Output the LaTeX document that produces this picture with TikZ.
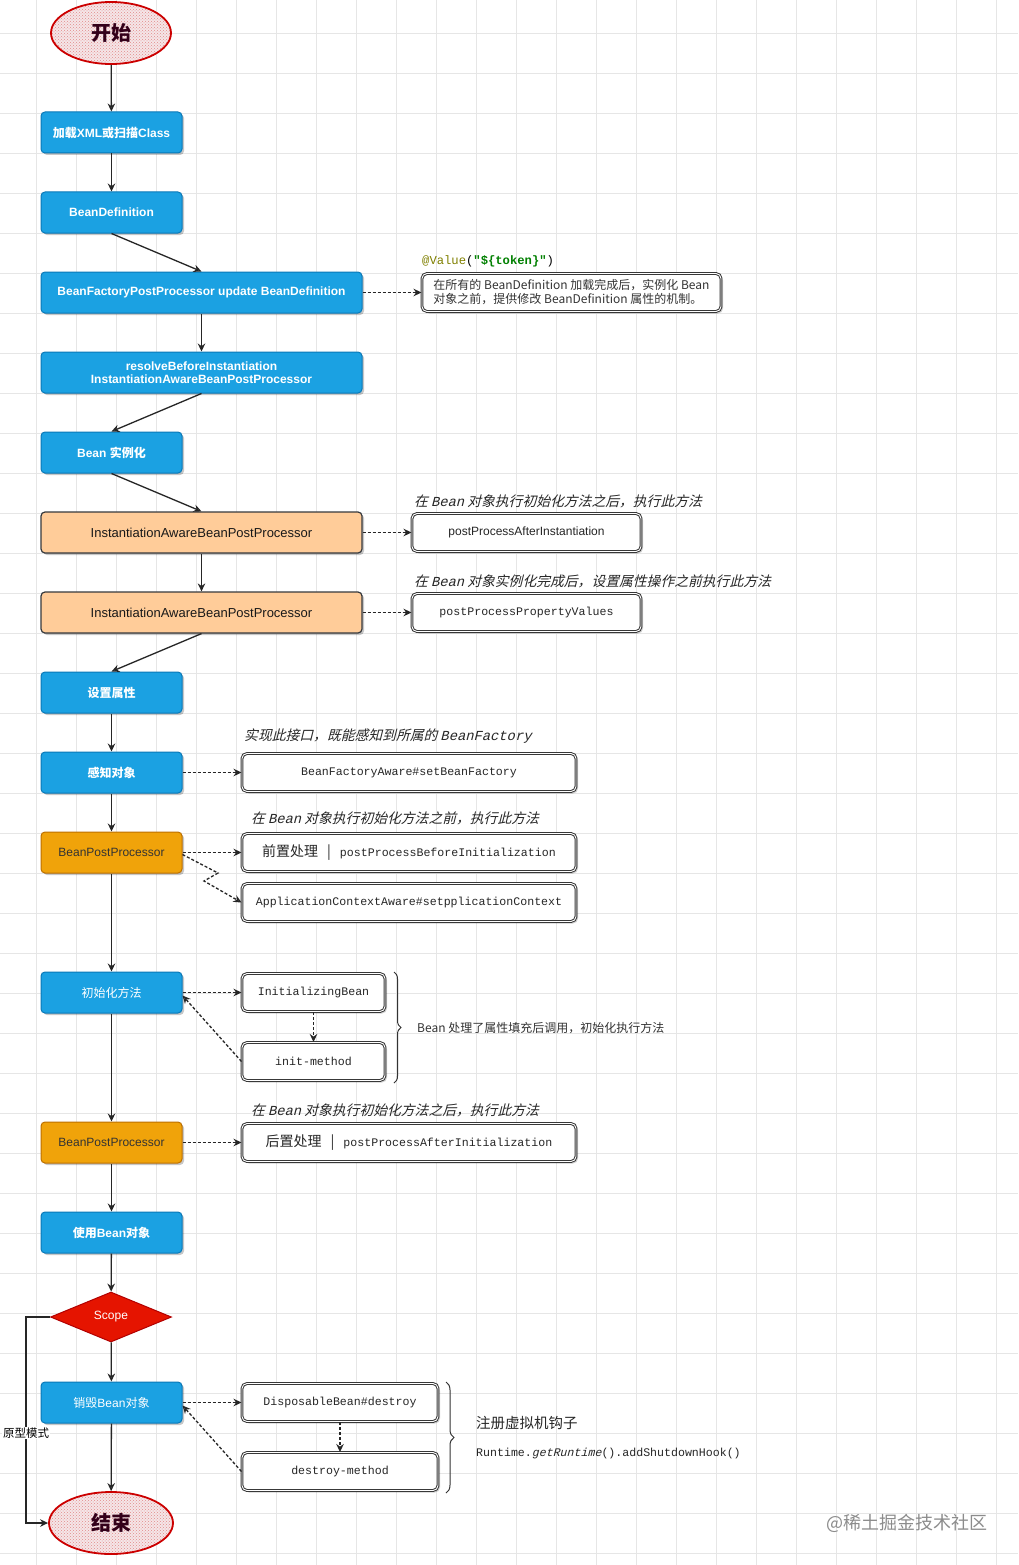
\documentclass[tikz,border=0pt]{standalone}
\usepackage{fontspec}
\setmainfont{Liberation Sans}
\setmonofont{Liberation Mono}
\newfontfamily\cjk{Noto Sans CJK SC}
\newfontfamily\cjki[FakeSlant=0.25]{Noto Sans CJK SC}
\newfontfamily\monoi[FakeSlant=0.25]{Liberation Mono}
\usetikzlibrary{arrows.meta,shapes.geometric,shadows,patterns,decorations.pathreplacing}
\newcommand\zhc[1]{{\cjk #1}}
\definecolor{bluef}{HTML}{1BA1E2}
\definecolor{blued}{HTML}{0A79B8}
\definecolor{peach}{HTML}{FFCC99}
\definecolor{peachd}{HTML}{36393D}
\definecolor{amber}{HTML}{F0A30A}
\definecolor{amberd}{HTML}{BD7000}
\definecolor{scoper}{HTML}{E51400}
\definecolor{scoped}{HTML}{B20000}
\definecolor{ellr}{HTML}{CC0000}
\definecolor{ellfill}{HTML}{F5E6E8}
\definecolor{elldot}{HTML}{E28A8A}
\definecolor{elltext}{HTML}{33001A}
\definecolor{gridc}{HTML}{E6E6E6}
\definecolor{valc}{HTML}{808000}
\definecolor{tokc}{HTML}{008000}
\definecolor{txtd}{HTML}{333333}
\tikzset{
  shad/.style={drop shadow={shadow xshift=2pt, shadow yshift=-2pt, opacity=0.22, fill=black}},
  bbox/.style={shad, rounded corners=4pt, draw=blued, line width=1pt, fill=bluef, text=white,
    minimum height=41pt, inner sep=0pt, align=center, font=\fontsize{12}{14}\selectfont},
  wbox/.style={bbox, minimum width=141pt},
  wide/.style={bbox, minimum width=321pt},
  bfont/.style={font=\bfseries\fontsize{12}{14}\selectfont},
  pbox/.style={shad, rounded corners=4pt, draw=peachd, line width=1.2pt, fill=peach, text=black!90,
    minimum height=41pt, minimum width=321pt, inner sep=0pt, font=\fontsize{13}{15}\selectfont},
  abox/.style={shad, rounded corners=4pt, draw=amberd, line width=1pt, fill=amber, text=txtd,
    minimum height=41pt, minimum width=141pt, inner sep=0pt, font=\fontsize{12}{14}\selectfont},
  rbox/.style={drop shadow={shadow xshift=2pt, shadow yshift=-2pt, opacity=0.18, fill=black},
    rounded corners=5pt, draw=black!78, line width=1pt, double=white, double distance=0.9pt,
    fill=white, minimum height=38pt, inner sep=0pt, text=black!85,
    font=\ttfamily\fontsize{11.6}{13.5}\selectfont},
  ell/.style={ellipse, draw=ellr, line width=1.8pt, preaction={fill=ellfill},
    pattern=crosshatch dots, pattern color=elldot, inner sep=0pt, text=elltext,
    font=\cjk\bfseries\fontsize{20}{22}\selectfont},
  lab/.style={anchor=west, inner sep=0pt, text=black!85, font=\cjki\fontsize{13.8}{15}\selectfont},
  conn/.style={draw=black!85, line width=1.3pt, -{Stealth[open, length=8pt, width=7.5pt]}},
  dconn/.style={conn, dashed, dash pattern=on 3pt off 2pt},
}
\begin{document}
\begin{tikzpicture}[x=1pt, y=-1pt]
\useasboundingbox (0,0) rectangle (1018,1565);
\fill[white] (0,0) rectangle (1018,1565);
% grid
\foreach \gx in {36,76,...,1016} \draw[gridc, line width=0.8pt] (\gx,0) -- (\gx,1565);
\foreach \gy in {33,73,...,1563} \draw[gridc, line width=0.8pt] (0,\gy) -- (1018,\gy);

% left column
\node[ell, minimum width=120pt, minimum height=62pt] (n0) at (111,33) {开始};
\node[wbox, bfont] (n1) at (111.5,132.5) {\zhc{加载}XML\zhc{或扫描}Class};
\node[wbox, bfont] (n2) at (111.5,212.5) {BeanDefinition};
\node[wide, bfont] (n3) at (201.5,292.5) {BeanFactoryPostProcessor update BeanDefinition};
\node[wide, bfont] (n4) at (201.5,372.5) {resolveBeforeInstantiation\\[-1pt]InstantiationAwareBeanPostProcessor};
\node[wbox, bfont] (n5) at (111.5,452.5) {Bean \zhc{实例化}};
\node[pbox] (n6) at (201.5,532.5) {InstantiationAwareBeanPostProcessor};
\node[pbox] (n7) at (201.5,612.5) {InstantiationAwareBeanPostProcessor};
\node[wbox, font=\cjk\bfseries\fontsize{12}{14}\selectfont] (n8) at (111.5,692.5) {设置属性};
\node[wbox, font=\cjk\bfseries\fontsize{12}{14}\selectfont] (n9) at (111.5,772.5) {感知对象};
\node[abox] (n10) at (111.5,852.5) {BeanPostProcessor};
\node[wbox, font=\cjk\fontsize{12}{14}\selectfont] (n11) at (111.5,992.5) {初始化方法};
\node[abox] (n12) at (111.5,1142.5) {BeanPostProcessor};
\node[wbox, bfont] (n13) at (111.5,1232.5) {\zhc{使用}Bean\zhc{对象}};
\node[diamond, draw=scoped, line width=1pt, fill=scoper, text=white, inner sep=0pt,
  minimum width=121pt, minimum height=50pt, font=\fontsize{12}{14}\selectfont] (n14) at (111,1317) {Scope};
\node[wbox] (n15) at (111.5,1402.5) {\zhc{销毁}Bean\zhc{对象}};
\node[ell, minimum width=124pt, minimum height=62pt] (n16) at (111,1523) {结束};

% right column
\node[rbox, minimum width=299pt, align=left, font=\cjk\fontsize{12}{14}\selectfont, text=black!80] (r1) at (571.5,292.5)
  {在所有的 BeanDefinition 加载完成后，实例化 Bean\\对象之前，提供修改 BeanDefinition 属性的机制。};
\node[rbox, minimum width=229pt, font=\fontsize{12}{14}\selectfont] (r2) at (526.5,532.5) {postProcessAfterInstantiation};
\node[rbox, minimum width=229pt] (r3) at (526.5,612.5) {postProcessPropertyValues};
\node[rbox, minimum width=334pt] (r4) at (409,772.5) {BeanFactoryAware\#setBeanFactory};
\node[rbox, minimum width=334pt] (r5) at (409,852.5) {{\cjk\fontsize{14}{16}\selectfont 前置处理}\hspace{9pt}{\cjk\fontsize{14}{16}\selectfont |}\hspace{9pt}postProcessBeforeInitialization};
\node[rbox, minimum width=334pt] (r6) at (409,902.5) {ApplicationContextAware\#setpplicationContext};
\node[rbox, minimum width=143pt] (r7) at (313.5,992.5) {InitializingBean};
\node[rbox, minimum width=143pt] (r8) at (313.5,1061.5) {init-method};
\node[rbox, minimum width=334pt] (r9) at (409,1142.5) {{\cjk\fontsize{14}{16}\selectfont 后置处理}\hspace{9pt}{\cjk\fontsize{14}{16}\selectfont |}\hspace{9pt}postProcessAfterInitialization};
\node[rbox, minimum width=196pt] (r10) at (340,1402.5) {DisposableBean\#destroy};
\node[rbox, minimum width=196pt] (r11) at (340,1471.5) {destroy-method};

% labels
\node[anchor=west, inner sep=0pt, font=\ttfamily\fontsize{12.2}{14}\selectfont] (l1) at (422,261)
  {{\color{valc}@Value}({\color{tokc}\bfseries"\$\{token\}"})};
\node[lab] (l2) at (414,501) {在 {\monoi Bean} 对象执行初始化方法之后，执行此方法};
\node[lab] (l3) at (414,581) {在 {\monoi Bean} 对象实例化完成后，设置属性操作之前执行此方法};
\node[lab] (l4) at (244,736) {实现此接口，既能感知到所属的 {\monoi BeanFactory}};
\node[lab] (l5) at (251,818) {在 {\monoi Bean} 对象执行初始化方法之前，执行此方法};
\node[lab] (l6) at (251,1110) {在 {\monoi Bean} 对象执行初始化方法之后，执行此方法};

% braces
\coordinate (b1a) at (394,972);
\coordinate (b1b) at (394,1083);
\draw[black!80, line width=1pt, decorate, decoration={brace, amplitude=7pt}] (b1a) -- (b1b);
\node[anchor=west, inner sep=0pt, font=\cjk\fontsize{12}{14}\selectfont, text=black!80] (bt1) at (417,1028)
  {Bean 处理了属性填充后调用，初始化执行方法};
\coordinate (b2a) at (446,1382);
\coordinate (b2b) at (446,1493);
\draw[black!80, line width=1pt, decorate, decoration={brace, amplitude=8pt}] (b2a) -- (b2b);
\node[anchor=west, inner sep=0pt, font=\cjk\fontsize{14.5}{16}\selectfont, text=black!85] (bt2) at (476,1423) {注册虚拟机钩子};
\node[anchor=west, inner sep=0pt, font=\ttfamily\fontsize{11.6}{13}\selectfont, text=black!85] (bt3) at (476,1453)
  {Runtime.{\monoi getRuntime}().addShutdownHook()};

% solid connectors
\draw[conn] (n0) -- (n1);
\draw[conn] (n1) -- (n2);
\draw[conn] (n2.south) -- (n3.north);
\draw[conn] (n3) -- (n4);
\draw[conn] (n4.south) -- (n5.north);
\draw[conn] (n5.south) -- (n6.north);
\draw[conn] (n6) -- (n7);
\draw[conn] (n7.south) -- (n8.north);
\draw[conn] (n8) -- (n9);
\draw[conn] (n9) -- (n10);
\draw[conn] (n10) -- (n11);
\draw[conn] (n11) -- (n12);
\draw[conn] (n12) -- (n13);
\draw[conn] (n13) -- (n14);
\draw[conn] (n14) -- (n15);
\draw[conn] (n15) -- (n16);
\coordinate (sl) at (26,1317);
\draw[conn] (n14.west) -- (sl) |- (n16.west);
\node[fill=white, inner sep=1pt, font=\cjk\fontsize{11.5}{13}\selectfont] (pm) at (26,1433) {原型模式};

% dashed connectors
\draw[dconn] (n3.east) -- (r1.west);
\draw[dconn] (n6.east) -- (r2.west);
\draw[dconn] (n7.east) -- (r3.west);
\draw[dconn] (n9.east) -- (r4.west);
\draw[dconn] (n10.east) -- (r5.west);
\coordinate (z1) at (218,873);
\coordinate (z2) at (204,881);
\draw[dconn] ([yshift=-2pt]n10.east) -- (z1) -- (z2) -- (r6.west);
\draw[dconn] (n11.east) -- (r7.west);
\draw[dconn] (r8.west) -- ([yshift=-3pt]n11.east);
\draw[dconn] (r7) -- (r8);
\draw[dconn] (n12.east) -- (r9.west);
\draw[dconn] (n15.east) -- (r10.west);
\draw[dconn] (r11.west) -- ([yshift=-3pt]n15.east);
\draw[dconn] (r10) -- (r11);

% watermark
\node[anchor=west, inner sep=0pt, text=black!45, font=\cjk\fontsize{18}{20}\selectfont] (wm) at (826,1523) {@稀土掘金技术社区};
\end{tikzpicture}
\end{document}
